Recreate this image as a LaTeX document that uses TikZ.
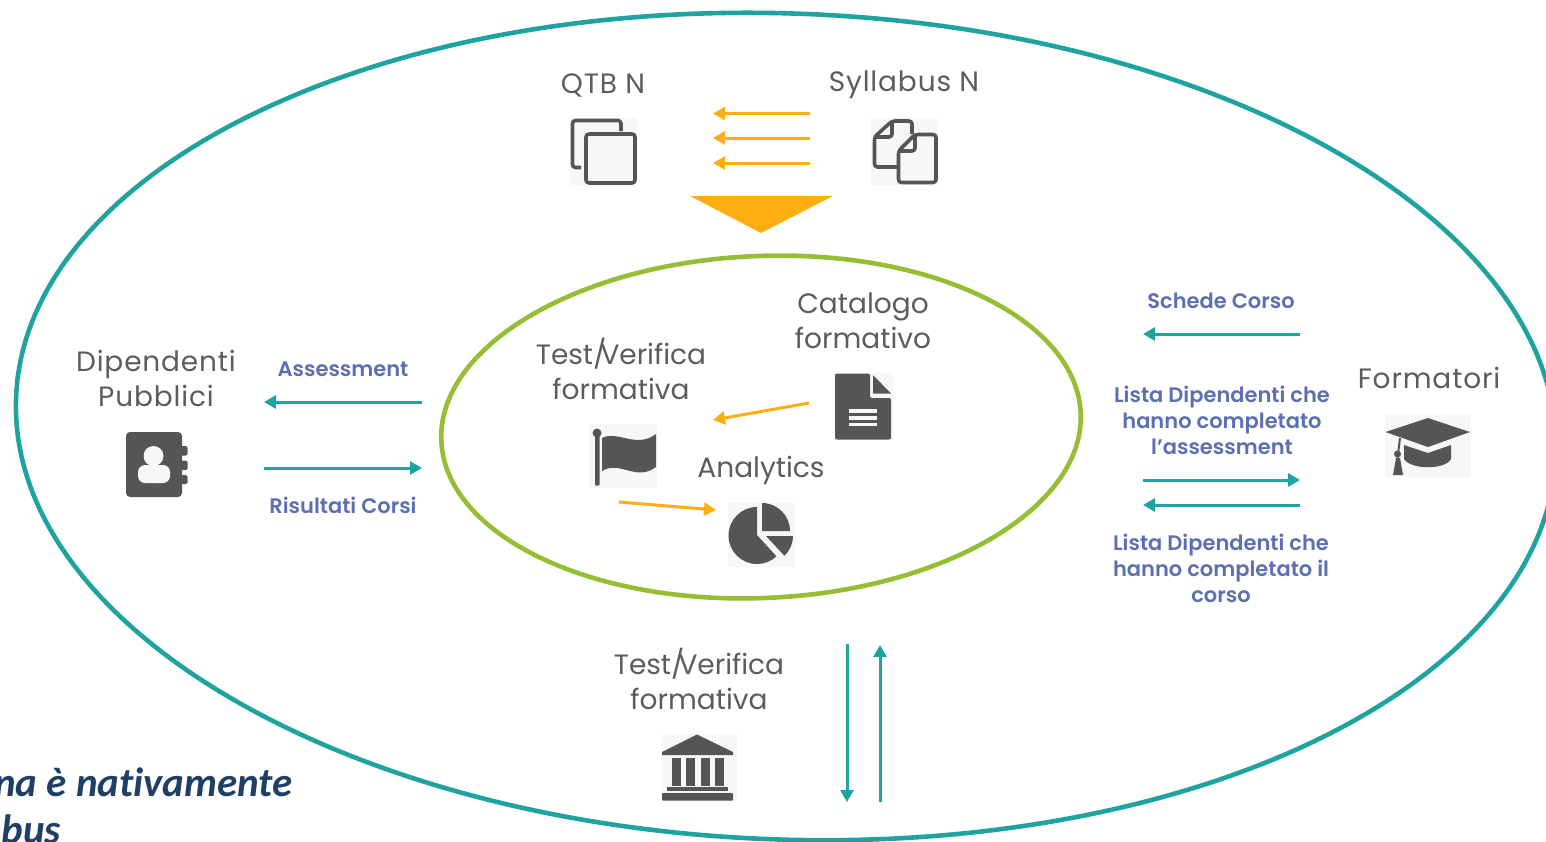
\documentclass[tikz,border=0pt]{standalone}
\usepackage{fontspec}
\setmainfont{Poppins}
\newfontfamily\mainf{Poppins}
\newfontfamily\mainw[LetterSpace=3]{Poppins}
\newfontfamily\labf{Poppins SemiBold}
\newfontfamily\callf[Ligatures=NoCommon]{Carlito}
\usetikzlibrary{arrows.meta,shapes.geometric}
\definecolor{teal1}{HTML}{1FA3A0}
\definecolor{green1}{HTML}{96BE35}
\definecolor{orange1}{HTML}{FFAE12}
\definecolor{gray1}{HTML}{555555}
\definecolor{txt1}{HTML}{5C5C5C}
\definecolor{blue1}{HTML}{5C6FB3}
\definecolor{navy1}{HTML}{1F3F66}
\definecolor{pale1}{HTML}{F6F7F8}
\tikzset{
  x=1pt,y=-1pt,
  big/.style={font=\mainf\fontsize{28}{35}\selectfont,text=txt1,align=center,inner sep=0pt},
  bigw/.style={font=\mainw\fontsize{28}{35}\selectfont,text=txt1,align=center,inner sep=0pt},
  lab/.style={font=\labf\fontsize{21}{26}\selectfont,text=blue1,align=center,inner sep=0pt},
  oarrow/.style={draw=orange1,line width=3pt,-{Triangle[length=12pt,width=13pt]}},
  tarrow/.style={draw=teal1,line width=3pt,-{Triangle[length=12pt,width=13pt]}},
  iconbg/.style={fill=pale1,draw=none},
  ico/.style={fill=gray1,draw=none},
  icoline/.style={draw=gray1,line width=3.6pt,line join=round,rounded corners=3pt},
  whiteline/.style={draw=pale1,line width=3.4pt},
  cut/.style={anchor=base east,inner sep=0pt,font=\callf\bfseries\itshape\fontsize{41}{41}\selectfont,text=navy1},
  oval/.style={ellipse,line width=4.6pt,inner sep=0pt,outer sep=0pt},
}
\begin{document}
\begin{tikzpicture}
\useasboundingbox (0,0) rectangle (1546,841);
\clip (0,0) rectangle (1546,841);
% ellipses
\node[oval,draw=teal1,minimum width=1541pt,minimum height=826pt,rotate=-2.14] (outer) at (786,426.5) {};
\node[oval,draw=green1,minimum width=640pt,minimum height=342pt,rotate=2.5] (inner) at (761,427) {};
% top labels
\node[bigw] (qtb) at (603,85) {QTB N};
\node[bigw] (syl) at (904,85) {Syllabus N};
% QTB icon
\fill[iconbg] (570,118) rectangle (637,185);
\draw[icoline] (581,167.5) -- (572.5,167.5) -- (572.5,120.5) -- (621,120.5) -- (621,131);
\draw[icoline] (586,134) rectangle (635,183);
% Syllabus icon
\fill[iconbg] (871,118) rectangle (938,185);
\draw[icoline] (897,167) -- (874.5,167) -- (874.5,137) -- (892,121) -- (912,121) -- (912,134);
\draw[icoline] (892,121) -- (892,137) -- (874.5,137);
\draw[icoline] (898.5,151) -- (915,134.5) -- (936,134.5) -- (936,182.5) -- (898.5,182.5) -- cycle;
\draw[icoline] (915,134.5) -- (915,151) -- (898.5,151);
% top arrows
\coordinate (oa1s) at (810,113.5); \coordinate (oa1e) at (713,113.5);
\coordinate (oa2s) at (810,138); \coordinate (oa2e) at (713,138);
\coordinate (oa3s) at (810,163); \coordinate (oa3e) at (713,163);
\draw[oarrow] (oa1s) -- (oa1e);
\draw[oarrow] (oa2s) -- (oa2e);
\draw[oarrow] (oa3s) -- (oa3e);
\fill[orange1] (690,196) -- (833,196) -- (761,233) -- cycle;
% inner
\node[big] (cat) at (863,320.5) {Catalogo\\formativo};
\node[big] (test1) at (621,368.5) {Test/\kern-6pt Verifica\\formativa};
\node[big] (ana) at (761,470) {Analytics};
% doc icon
\fill[iconbg] (835,373) rectangle (893,440);
\fill[ico,rounded corners=2pt] (835,373.5) -- (870,373.5) -- (870,398) -- (891,398) -- (891,439.5) -- (835,439.5) -- cycle;
\fill[ico] (873,375) -- (891,393.5) -- (873,393.5) -- cycle;
\draw[whiteline] (849,411) -- (877,411);
\draw[whiteline] (849,418) -- (877,418);
\draw[whiteline] (849,424.5) -- (877,424.5);
% flag icon
\fill[iconbg] (589,424) rectangle (657,488);
\fill[ico,rounded corners=1pt] (595,432) rectangle (599.5,485.5);
\fill[ico] (597,433) circle[radius=4.5pt];
\fill[ico] (602,438) .. controls (618,430) and (636,449) .. (656,434) -- (656,467) .. controls (636,482) and (620,460) .. (602,471) -- cycle;
% pie icon
\fill[iconbg] (728,503) rectangle (795,567);
\fill[ico] (757,535) -- (757,507) arc[start angle=90,end angle=313,radius=28.5pt] -- cycle;
\fill[ico] (762,531) -- (762,503) arc[start angle=90,end angle=0,radius=28pt] -- cycle;
\fill[ico] (766,536) -- (793,536) arc[start angle=0,end angle=-47,radius=27pt] -- cycle;
% inner arrows
\coordinate (ia1s) at (809,403); \coordinate (ia1e) at (713,420);
\coordinate (ia2s) at (619,502); \coordinate (ia2e) at (716,510);
\draw[oarrow] (ia1s) -- (ia1e);
\draw[oarrow] (ia2s) -- (ia2e);
% left
\node[bigw] (dip) at (156,378) {Dipendenti\\Pubblici};
\fill[ico,rounded corners=4pt] (126,432) rectangle (182,497);
\fill[ico,rounded corners=1.5pt] (180,446) rectangle (187.5,455.5);
\fill[ico,rounded corners=1.5pt] (180,460.5) rectangle (187.5,470);
\fill[ico,rounded corners=1.5pt] (180,475) rectangle (187.5,484);
\fill[pale1] (153.5,456) circle[radius=10pt];
\fill[pale1,rounded corners=7pt] (138,483) -- (138,465) -- (170,465) -- (170,483) -- cycle;
\node[lab] (ass) at (343,369) {Assessment};
\node[lab] (ris) at (343,505) {Risultati Corsi};
\coordinate (la1s) at (422,402); \coordinate (la1e) at (264,402);
\coordinate (la2s) at (264,468); \coordinate (la2e) at (422,468);
\draw[tarrow] (la1s) -- (la1e);
\draw[tarrow] (la2s) -- (la2e);
% right
\node[lab] (sch) at (1221,301) {Schede Corso};
\node[lab] (lis1) at (1222,420) {Lista Dipendenti che\\hanno completato\\l’assessment};
\node[lab] (lis2) at (1221,568) {Lista Dipendenti che\\hanno completato il\\corso};
\coordinate (ra1s) at (1300,334); \coordinate (ra1e) at (1143,334);
\coordinate (ra2s) at (1143,480); \coordinate (ra2e) at (1300,480);
\coordinate (ra3s) at (1300,505); \coordinate (ra3e) at (1143,505);
\draw[tarrow] (ra1s) -- (ra1e);
\draw[tarrow] (ra2s) -- (ra2e);
\draw[tarrow] (ra3s) -- (ra3e);
\node[bigw] (form) at (1429,378) {Formatori};
% cap icon
\fill[iconbg] (1385,414) rectangle (1471,477);
\fill[ico] (1385.5,432) -- (1428,418) -- (1470,432) -- (1428,447) -- cycle;
\fill[ico] (1404,445) -- (1428,453) -- (1451,445) -- (1451,459) .. controls (1445,470) and (1411,470) .. (1404,459) -- cycle;
\draw[gray1,line width=2pt] (1400,438) -- (1397.5,458);
\fill[ico] (1397.5,454) circle[radius=3.5pt];
\fill[ico] (1396,458) -- (1400,458) -- (1403,475) -- (1393,475) -- cycle;
% bottom
\node[big] (test2) at (699,679) {Test/\kern-6pt Verifica\\formativa};
\fill[iconbg] (662,734) rectangle (737,801);
\fill[ico] (697,734.5) -- (733,752) -- (733,755) -- (662,755) -- (662,752) -- cycle;
\fill[ico] (671.5,758) rectangle (681,786);
\fill[ico] (686,758) rectangle (695,786);
\fill[ico] (701,758) rectangle (709.5,786);
\fill[ico] (714.5,758) rectangle (723.5,786);
\fill[ico] (667,786.5) rectangle (728,791);
\fill[ico,rounded corners=1pt] (662,793) rectangle (733,800.5);
\coordinate (va1s) at (847,644); \coordinate (va1e) at (847,802);
\coordinate (va2s) at (880,802); \coordinate (va2e) at (880,645);
\draw[tarrow] (va1s) -- (va1e);
\draw[tarrow] (va2s) -- (va2e);
% text cut by the picture's edge, as in the reference
\node[cut] (cut1) at (293,796) {na è nativamente};
\node[cut] (cut2) at (61,843) {bus};
\end{tikzpicture}
\end{document}
